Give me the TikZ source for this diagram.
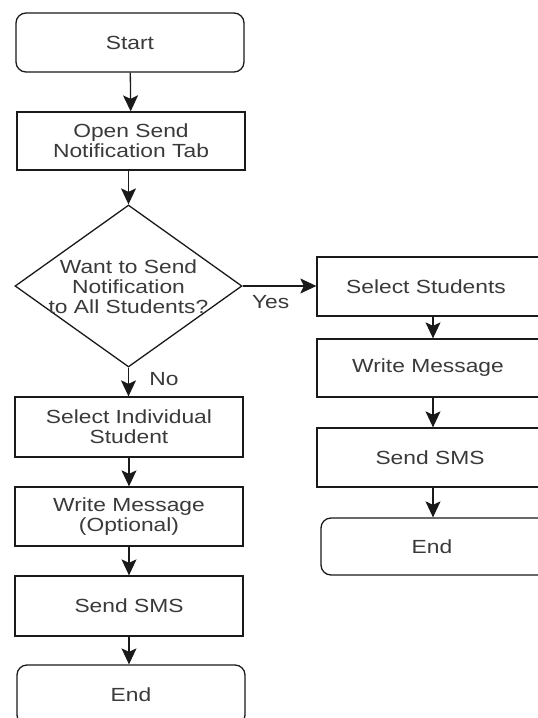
\documentclass[tikz,border=0pt]{standalone}
\usepackage{fontspec}
\setmainfont[FakeStretch=1.2]{Liberation Sans}
\usetikzlibrary{shapes.geometric,arrows.meta}
\definecolor{txt}{HTML}{3A3A3A}
\definecolor{ln}{HTML}{1A1A1A}
\begin{document}
\begin{tikzpicture}[x=1pt,y=-1pt,
  every node/.style={font=\fontsize{19}{20}\selectfont, text=txt, align=center},
  box/.style={draw=ln, line width=1.3pt, rectangle, inner sep=0pt, minimum width=228pt, minimum height=59pt},
  rbox/.style={draw=ln, line width=1.3pt, rectangle, inner sep=0pt, minimum width=250pt, minimum height=59pt},
  term/.style={draw=ln, line width=1.3pt, rectangle, rounded corners=10pt, inner sep=0pt, minimum width=228pt, minimum height=59pt},
  arr/.style={draw=ln, line width=1.3pt, -{Stealth[length=16pt,width=15pt,inset=3.5pt]}},
  lbl/.style={font=\fontsize{19}{20}\selectfont, text=txt, align=center}
]
\clip (0,0) rectangle (538,718);
\fill[white] (0,0) rectangle (538,718);

\node[term] (start) at (130,42.5) {Start};
\node[box, minimum height=58pt] (open) at (131,141) {Open Send\\Notification Tab};
\node[draw=ln, line width=1.3pt, shape=diamond, inner sep=0pt, minimum width=227pt, minimum height=162pt,
      label={[lbl, yshift=-1pt]center:{Want to Send\\Notification\\to All Students?}}] (dec) at (128.5,286) {};

\node[box, minimum height=60pt] (sis) at (129,427) {Select Individual\\Student};
\node[box] (wmo) at (129,516.5) {Write Message\\(Optional)};
\node[box, minimum height=60pt] (sms) at (129,606) {Send SMS};
\node[term, minimum height=60pt] (endl) at (131,695) {End};

\coordinate (rcol) at (433,0);
\node[rbox, label={[lbl, xshift=-16pt]center:Select Students}] (ss) at (442,286.5) {};
\node[rbox, minimum height=58pt, label={[lbl, xshift=-14pt]center:Write Message}] (wm) at (442,368) {};
\node[rbox, label={[lbl, xshift=-12pt]center:Send SMS}] (sms2) at (442,457.5) {};
\node[term, minimum width=242pt, minimum height=57pt, label={[lbl, xshift=-10pt]center:End}] (endr) at (442,546.5) {};

\draw[arr] (start) -- (open);
\draw[arr] (open.south -| dec.north) -- (dec.north);
\draw[arr] (dec.east) -- node[lbl, below, pos=0.38, yshift=-5pt] {Yes} (dec.east -| ss.west);
\draw[arr] (dec.south) -- node[lbl, right, pos=0.4, xshift=17pt] {No} (dec.south |- sis.north);
\draw[arr] (sis) -- (wmo);
\draw[arr] (wmo) -- (sms);
\draw[arr] (sms) -- (sms |- endl.north);
\draw[arr] (ss.south -| rcol) -- (rcol |- wm.north);
\draw[arr] (wm.south -| rcol) -- (rcol |- sms2.north);
\draw[arr] (sms2.south -| rcol) -- (rcol |- endr.north);
\end{tikzpicture}
\end{document}
